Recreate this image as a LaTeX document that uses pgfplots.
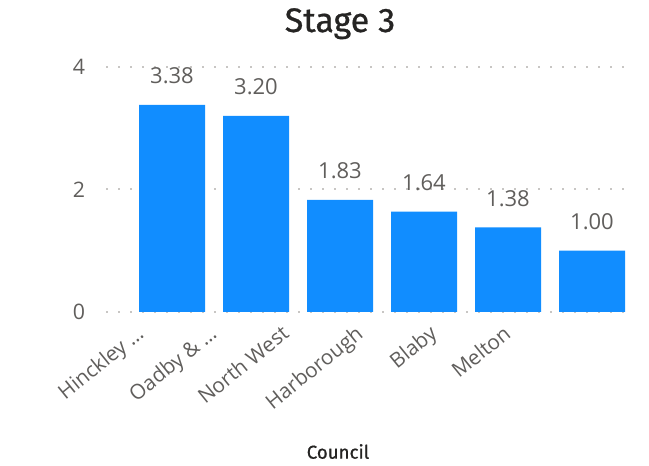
\documentclass[border=0pt]{standalone}
\usepackage{pgfplots}
\pgfplotsset{compat=1.18}
\usepackage{fontspec}
\setmainfont{Open Sans}
\newfontfamily\titlefont{Fira Sans}[FakeBold=0.8]
\definecolor{barblue}{HTML}{118DFF}
\definecolor{txtgray}{HTML}{605E5C}
\definecolor{dark}{HTML}{252423}
\definecolor{gridgray}{HTML}{C8C6C4}
\begin{document}
\begin{tikzpicture}
\useasboundingbox (0,0) rectangle (486.75pt,349.5pt);
\begin{axis}[
  at={(79.5pt,115.5pt)}, anchor=south west,
  scale only axis, width=394.5pt, height=183.75pt,
  xmin=-0.786, xmax=5.476, ymin=0, ymax=4,
  clip=false,
  axis line style={draw=none},
  major tick length=0pt,
  ytick={0,2,4},
  ymajorgrids,
  grid style={gridgray, line width=1.5pt, line cap=butt, dash pattern=on 1.5pt off 7.5pt},
  yticklabel style={font=\fontsize{16}{19}\selectfont, text=txtgray, anchor=east, inner sep=0pt, xshift=-15.5pt},
  xtick={-0.32,0.55,1.41,2.29,3.17,4.05},
  xticklabels={Hinckley \dots, Oadby \& \dots, North West, Harborough, Blaby, Melton},
  xticklabel style={yshift=-18pt, font=\fontsize{15.5}{18}\selectfont, text=txtgray, rotate=39, anchor=base east, inner sep=0pt},
  /pgf/number format/assume math mode=true,
  nodes near coords,
  nodes near coords style={font=\fontsize{16.5}{19}\selectfont, text=txtgray, anchor=south, yshift=12pt,
    /pgf/number format/.cd, fixed, fixed zerofill, precision=2},
]
\addplot[ybar, bar width=49.5pt, bar shift=0pt, fill=barblue, draw=none]
  coordinates {(0,3.38) (1,3.20) (2,1.83) (3,1.64) (4,1.38) (5,1.00)};
\end{axis}
\node[font=\titlefont\fontsize{25.5}{30}\selectfont, text=dark, anchor=base] at (255pt,325.5pt) {Stage 3};
\node[font=\titlefont\fontsize{14}{16}\selectfont, text=dark, anchor=base] at (253.5pt,5.5pt) {Council};
\end{tikzpicture}
\end{document}
